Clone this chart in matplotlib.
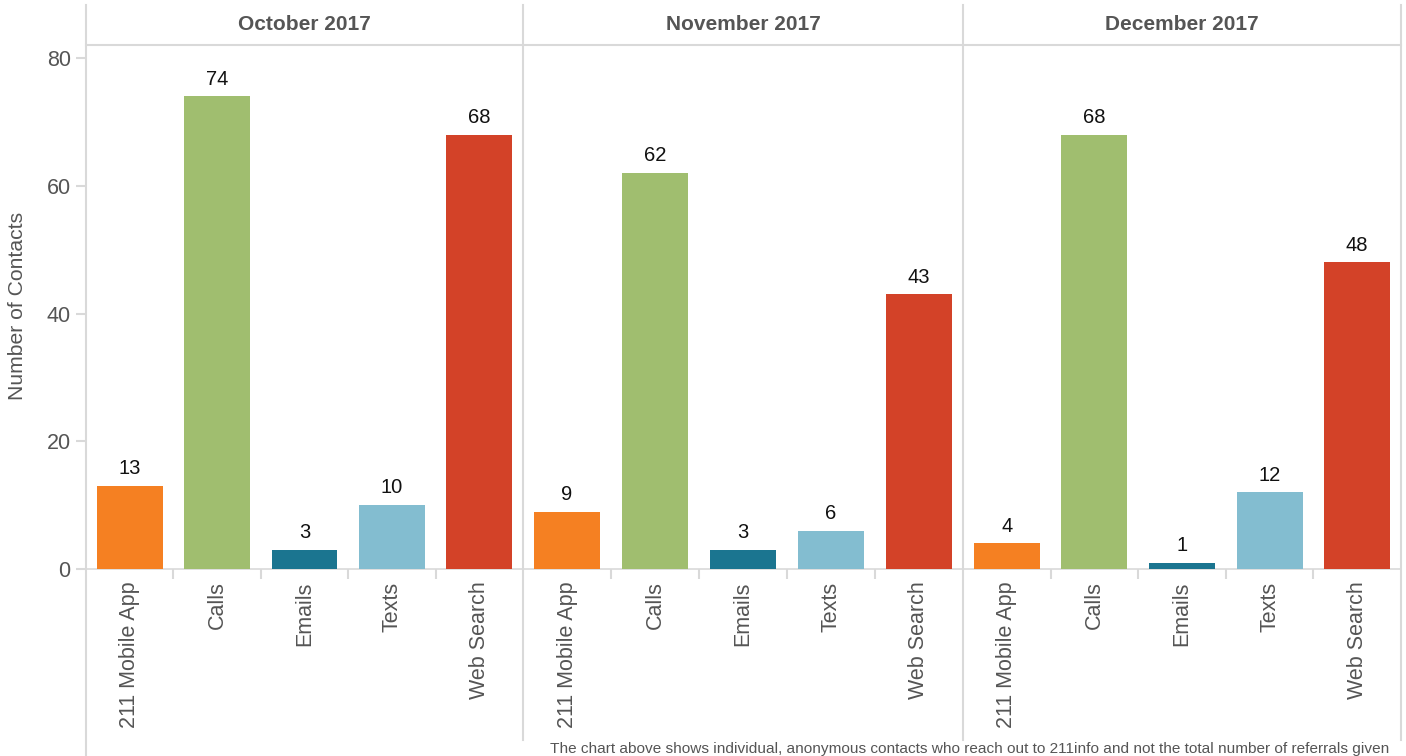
import matplotlib
matplotlib.use("Agg")
import matplotlib.pyplot as plt
from matplotlib.lines import Line2D

plt.rcParams['font.family'] = ['Liberation Sans', 'DejaVu Sans']

months = ["October 2017", "November 2017", "December 2017"]
categories = ["211 Mobile App", "Calls", "Emails", "Texts", "Web Search"]
values = {
    "October 2017": [13, 74, 3, 10, 68],
    "November 2017": [9, 62, 3, 6, 43],
    "December 2017": [4, 68, 1, 12, 48],
}
colors = ["#F58022", "#A0BE6F", "#1B7590", "#83BDD0", "#D34228"]
y_ticks = [0, 20, 40, 60, 80]
y_label = "Number of Contacts"
footer = ("The chart above shows individual, anonymous contacts who reach out to "
          "211info and not the total number of referrals given")

W, H = 1406, 756
fig = plt.figure(figsize=(W / 100, H / 100), dpi=100)

def fx(px):
    return px / W

def fy(py):
    return 1 - py / H

panel_edges = [86, 523, 963, 1401]
y_top, y_zero = 45, 569
ymax = (y_zero - y_top) / ((y_zero - 58) / 80.0)
grid_c = "#d9d9d9"

for i, m in enumerate(months):
    x0, x1 = panel_edges[i], panel_edges[i + 1]
    ax = fig.add_axes([fx(x0), fy(y_zero), fx(x1 - x0), (y_zero - y_top) / H])
    xs = list(range(len(categories)))
    ax.bar(xs, values[m], width=0.755, color=colors, zorder=3)
    for xi, v in zip(xs, values[m]):
        ax.annotate(str(v), (xi, v), xytext=(0, 5.5), textcoords="offset points",
                    ha="center", va="bottom", fontsize=14.5, color="#111111")
    ax.set_xlim(-0.5, len(categories) - 0.5)
    ax.set_ylim(0, ymax)
    ax.set_xticks(xs)
    ax.set_xticklabels(categories, rotation=90, fontsize=15.5, color="#555555",
                       va="top", ha="center")
    ax.tick_params(axis="x", which="major", length=0, pad=9)
    ax.set_xticks([k + 0.5 for k in range(len(categories) - 1)], minor=True)
    ax.tick_params(axis="x", which="minor", length=7, width=1.5, color=grid_c, direction="out")
    for s in ["top", "right", "left"]:
        ax.spines[s].set_visible(False)
    ax.spines["bottom"].set_color(grid_c)
    ax.spines["bottom"].set_linewidth(1.2)
    if i == 0:
        ax.set_yticks(y_ticks)
        ax.tick_params(axis="y", length=7, width=1.5, color=grid_c, labelsize=15.5,
                       labelcolor="#555555", pad=4)
    else:
        ax.set_yticks([])
    fig.text(fx((x0 + x1) / 2), fy(25), m, ha="center", va="center",
             fontsize=15, fontweight="bold", color="#555555")

# header line
fig.add_artist(Line2D([fx(86), fx(1401)], [fy(45), fy(45)], color=grid_c, lw=1.5))
# vertical panel lines
fig.add_artist(Line2D([fx(86), fx(86)], [fy(5), fy(756)], color=grid_c, lw=1.5))
for px in panel_edges[1:]:
    fig.add_artist(Line2D([fx(px), fx(px)], [fy(5), fy(740)], color=grid_c, lw=1.5))

fig.text(fx(18), fy(306), y_label, rotation=90, ha="center", va="center",
         fontsize=15.2, color="#555555")
fig.text(fx(550), fy(742), footer, ha="left", va="top", fontsize=11.1, color="#555555")

fig.savefig("out.png", dpi=100)
